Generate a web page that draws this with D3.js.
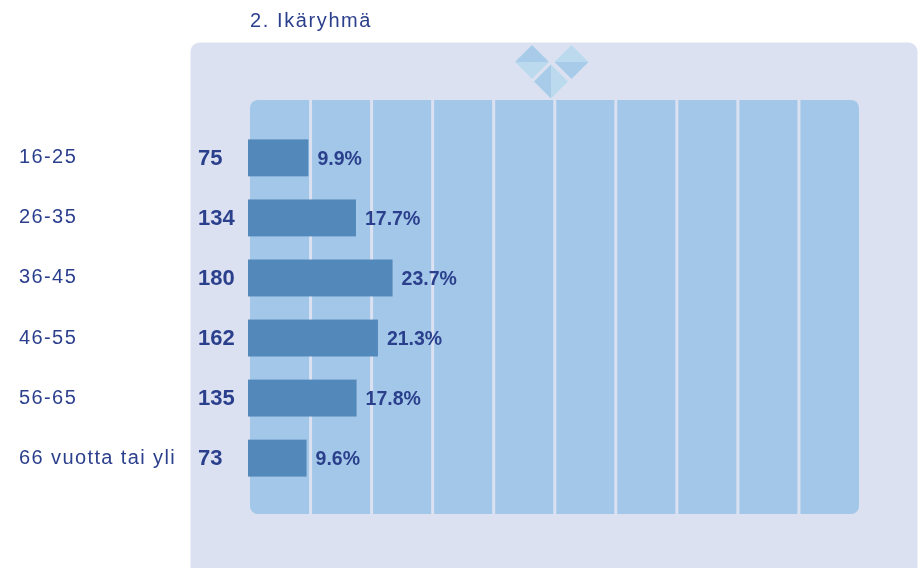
<!DOCTYPE html>
<html><head><meta charset="utf-8">
<script src="https://cdn.jsdelivr.net/npm/d3@7"></script>
<style>html,body{margin:0;background:#fff}svg{display:block}text{font-family:"Liberation Sans",Arial,sans-serif}</style>
</head><body><div id="c"></div>
<script>
const title = "2. Ikäryhmä";
const categories = ["16-25","26-35","36-45","46-55","56-65","66 vuotta tai yli"];
const counts = [75,134,180,162,135,73];
const percents = [9.9,17.7,23.7,21.3,17.8,9.6];
const gridTicks = [10,20,30,40,50,60,70,80,90];

const W=919,H=568,navy="#2b3f8c",panel="#dbe1f0",inner="#a3c7e8",bar="#5388ba";
const svg=d3.select("#c").append("svg").attr("width",W).attr("height",H);
const blur=svg.append("defs").append("filter").attr("id","soft").attr("x","-5%").attr("y","-20%").attr("width","110%").attr("height","140%");
blur.append("feGaussianBlur").attr("stdDeviation",0.45);

const x=d3.scaleLinear().domain([0,100]).range([248,858]);
const grid=d3.scaleLinear().domain([0,100]).range([249.5,860]);
const y=d3.scaleBand().domain(categories).range([128,488]).paddingInner(0.385).paddingOuter(0.19);

svg.append("rect").attr("x",190.5).attr("y",42.5).attr("width",727).attr("height",560).attr("rx",9).attr("fill",panel);
svg.append("rect").attr("x",250).attr("y",100).attr("width",609).attr("height",414).attr("rx",8).attr("fill",inner);
svg.selectAll(".g").data(gridTicks).join("line").attr("class","g")
  .attr("x1",d=>grid(d)).attr("x2",d=>grid(d)).attr("y1",100).attr("y2",514)
  .attr("stroke",panel).attr("stroke-width",3);

const tri=(cx,cy,r,pts)=>pts.map(p=>[cx+p[0]*r,cy+p[1]*r].join(",")).join(" ");
const triTop=[[-1,0],[0,-1],[1,0]],triBot=[[-1,0],[0,1],[1,0]],triLeft=[[0,-1],[-1,0],[0,1]],triRight=[[0,-1],[1,0],[0,1]];
const dark="#a8cbe9",light="#bbdaee";
[[532,62,17,triTop,dark],[532,62,17,triBot,light],[571.5,62,17,triTop,light],[571.5,62,17,triBot,dark],[551,81.5,17,triLeft,dark],[551,81.5,17,triRight,light]]
 .forEach(d=>svg.append("polygon").attr("points",tri(d[0],d[1],d[2],d[3])).attr("fill",d[4]).attr("filter","url(#soft)"));

svg.append("text").attr("x",250).attr("y",26.5).attr("font-size",20).attr("letter-spacing",1.6).attr("fill",navy).attr("filter","url(#soft)").text(title);

const rows=svg.selectAll(".r").data(categories).join("g").attr("class","r");
rows.append("rect").attr("x",x(0)).attr("y",d=>y(d)).attr("height",y.bandwidth())
  .attr("width",(d,i)=>x(percents[i])-x(0)).attr("fill",bar);
const cy=d=>y(d)+y.bandwidth()/2;
rows.append("text").attr("x",19).attr("y",d=>cy(d)+5.5).attr("font-size",20).attr("letter-spacing",1.4).attr("fill",navy).attr("filter","url(#soft)").text(d=>d);
rows.append("text").attr("x",198).attr("y",d=>cy(d)+7).attr("font-size",22).attr("font-weight","bold").attr("fill",navy).attr("filter","url(#soft)").text((d,i)=>counts[i]);
rows.append("text").attr("x",(d,i)=>x(percents[i])+9).attr("y",d=>cy(d)+7).attr("font-size",19.5).attr("font-weight","bold").attr("fill",navy).attr("filter","url(#soft)").text((d,i)=>percents[i]+"%");
</script></body></html>
